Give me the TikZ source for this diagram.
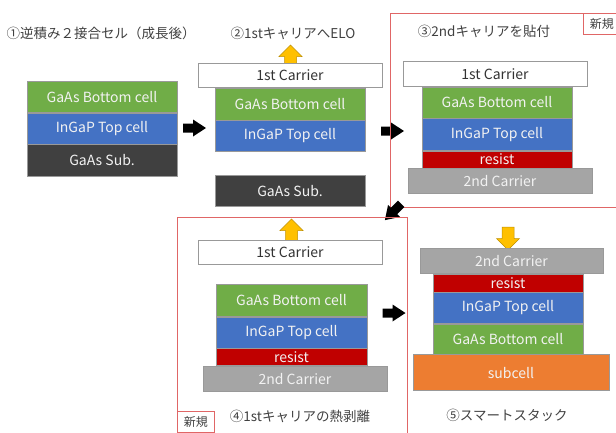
\documentclass[tikz,border=0pt]{standalone}
\usepackage{fontspec}
\setmainfont{Noto Sans CJK JP}
\usetikzlibrary{positioning}

\definecolor{cellgreen}{HTML}{70AD47}
\definecolor{cellblue}{HTML}{4472C4}
\definecolor{subdark}{HTML}{404040}
\definecolor{resistred}{HTML}{C00000}
\definecolor{carriergray}{HTML}{A5A5A5}
\definecolor{subcellorange}{HTML}{ED7D31}
\definecolor{pushyellow}{HTML}{FFC000}
\definecolor{framered}{HTML}{E06666}
\definecolor{labelgray}{HTML}{404040}

\tikzset{
  fatarrow/.pic={\fill[black] (-11.5,-4.5) -- (-1.5,-4.5) -- (-1.5,-8.5) -- (11.5,0)
      -- (-1.5,8.5) -- (-1.5,4.5) -- (-11.5,4.5) -- cycle;},
  pusharrow/.pic={\filldraw[fill=pushyellow, draw=pushyellow!75!black, line width=0.5pt]
      (-11.5,-6) -- (0,-6) -- (0,-11.5) -- (11.5,0) -- (0,11.5) -- (0,6) -- (-11.5,6) -- cycle;}
}

\begin{document}
\begin{tikzpicture}[x=1pt, y=-1pt,
    layer/.style={draw=black!40, line width=0.6pt, inner sep=0pt, minimum width=150pt,
      minimum height=31pt, text=white!95!black, font=\fontsize{14}{16}\selectfont},
    carrier/.style={layer, minimum width=184pt, minimum height=25pt},
    caption/.style={text=labelgray, font=\fontsize{13.5}{15}\selectfont, inner sep=0pt},
    newtag/.style={draw=framered, line width=0.7pt, fill=white, text=labelgray,
      font=\fontsize{12}{13}\selectfont, inner sep=2pt, minimum height=21pt, minimum width=37pt},
    frame/.style={draw=framered, line width=0.8pt}]
  \useasboundingbox (0,0) rectangle (616,432);

  % (1) grown inverted 2-junction cell
  \node[caption] (lab1) at (101,33) {①逆積み２接合セル（成長後）};
  \node[layer, fill=cellgreen, anchor=north] (g1) at (102,81) {GaAs Bottom cell};
  \node[layer, fill=cellblue, below=0pt of g1] (b1) {InGaP Top cell};
  \node[layer, fill=subdark, below=0pt of b1, minimum height=32pt] (s1) {GaAs Sub.};

  \pic at (194.5,128) {fatarrow};

  % (2) ELO onto 1st carrier
  \node[caption] (lab2) at (293,33) {②1stキャリアへELO};
  \pic[rotate=90] at (290.5,56.5) {pusharrow};
  \node[carrier, fill=white, text=black!80, minimum height=24pt, anchor=north] (c2) at (290,63) {1st Carrier};
  \node[layer, fill=cellgreen, below=0pt of c2, minimum height=32pt] (g2) {GaAs Bottom cell};
  \node[layer, fill=cellblue, below=0pt of g2] (b2) {InGaP Top cell};
  \node[layer, fill=subdark, below=23pt of b2] (s2) {GaAs Sub.};

  \pic at (392.5,131) {fatarrow};

  % (3) bond 2nd carrier
  \draw[frame] (390,13) rectangle (630,207);
  \node[newtag, anchor=north west] (new3) at (583,13) {新規};
  \node[caption] (lab3) at (484,31) {③2ndキャリアを貼付};
  \node[carrier, fill=white, text=black!80, anchor=north] (c3) at (495,61) {1st Carrier};
  \node[layer, fill=cellgreen, below=0pt of c3, xshift=2pt] (g3) {GaAs Bottom cell};
  \node[layer, fill=cellblue, below=0pt of g3, minimum height=32pt] (b3) {InGaP Top cell};
  \node[layer, fill=resistred, below=0pt of b3, minimum height=17pt] (r3) {resist};
  \node[carrier, fill=carriergray, below=0pt of r3, xshift=3pt] (d3) {2nd Carrier};

  \pic[rotate=225] at (393,212) {fatarrow};

  % (4) thermal release of 1st carrier
  \draw[frame] (177,217) rectangle (407,445);
  \node[newtag, anchor=north west] (new4) at (177,411) {新規};
  \node[caption] (lab4) at (300,416) {④1stキャリアの熱剥離};
  \pic[rotate=90] at (291.5,230.5) {pusharrow};
  \node[carrier, fill=white, text=black!80, minimum height=24pt, anchor=north] (c4) at (290,240) {1st Carrier};
  \node[layer, fill=cellgreen, anchor=north, minimum width=151pt, minimum height=32pt] (g4) at (291.5,284) {GaAs Bottom cell};
  \node[layer, fill=cellblue, below=0pt of g4, minimum width=151pt] (b4) {InGaP Top cell};
  \node[layer, fill=resistred, below=0pt of b4, minimum width=151pt, minimum height=17pt] (r4) {resist};
  \node[carrier, fill=carriergray, below=0pt of r4, xshift=3.5pt] (d4) {2nd Carrier};

  \pic at (394,313) {fatarrow};

  % (5) smart stack
  \node[caption] (lab5) at (507,415) {⑤スマートスタック};
  \pic[rotate=-90] at (508,238.5) {pusharrow};
  \node[carrier, fill=carriergray, anchor=north, minimum width=183pt] (d5) at (511.5,248) {2nd Carrier};
  \node[layer, fill=resistred, below=0pt of d5, xshift=-3.5pt, minimum height=18pt] (r5) {resist};
  \node[layer, fill=cellblue, below=0pt of r5] (b5) {InGaP Top cell};
  \node[layer, fill=cellgreen, below=0pt of b5, minimum height=30pt] (g5) {GaAs Bottom cell};
  \node[layer, fill=subcellorange, below=0pt of g5, xshift=3pt, minimum width=196pt, minimum height=36pt] (o5) {subcell};
\end{tikzpicture}
\end{document}
